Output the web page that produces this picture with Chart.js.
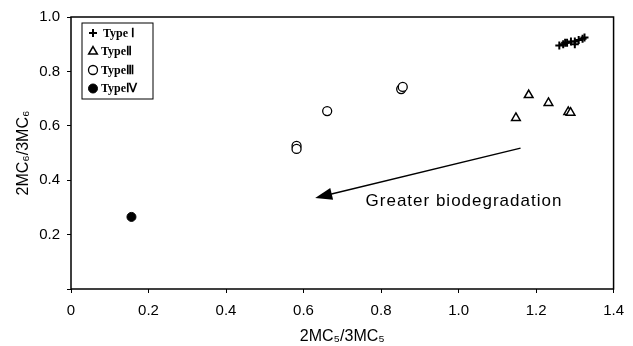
<!DOCTYPE html>
<html>
<head>
<meta charset="utf-8">
<script src="https://cdn.jsdelivr.net/npm/chart.js@4.4.1/dist/chart.umd.min.js"></script>
<style>
  html, body { margin: 0; padding: 0; background: #fff; }
  #wrap { width: 633px; height: 346px; }
</style>
</head>
<body>
<div id="wrap"><canvas id="chart"></canvas></div>
<script>
// values
const typeIX = [1.26, 1.27, 1.275, 1.28, 1.29, 1.30, 1.31, 1.32, 1.325, 1.30];
const typeIY = [0.895, 0.90, 0.905, 0.905, 0.91, 0.91, 0.915, 0.92, 0.925, 0.90];
const typeIIX = [1.148, 1.181, 1.232, 1.283, 1.289];
const typeIIY = [0.629, 0.713, 0.684, 0.651, 0.648];
const typeIIIX = [0.582, 0.582, 0.661, 0.852, 0.856];
const typeIIIY = [0.526, 0.515, 0.654, 0.735, 0.743];
const typeIVX = [0.156];
const typeIVY = [0.265];

const seriesLabels = ['Type Ⅰ', 'TypeⅡ', 'TypeⅢ', 'TypeⅣ'];
const xTicks = [0, 0.2, 0.4, 0.6, 0.8, 1.0, 1.2, 1.4];
const yTicks = [0, 0.2, 0.4, 0.6, 0.8, 1.0];

const arrowFrom = [1.16, 0.518];
const arrowTo = [0.63, 0.335];
const noteText = 'Greater biodegradation';
const notePos = [0.76, 0.322];

function pts(xs, ys) {
  return xs.map((x, i) => ({ x, y: ys[i] }));
}

const frame = {
  id: 'frame',
  afterDraw(chart) {
    const { ctx, chartArea: a } = chart;
    ctx.save();
    ctx.strokeStyle = '#000';
    ctx.lineWidth = 1.5;
    ctx.strokeRect(a.left, a.top, a.right - a.left, a.bottom - a.top);
    ctx.restore();
  }
};

const arrow = {
  id: 'arrow',
  afterDatasetsDraw(chart) {
    const { ctx, scales: { x, y } } = chart;
    const x1 = x.getPixelForValue(arrowFrom[0]), y1 = y.getPixelForValue(arrowFrom[1]);
    const x2 = x.getPixelForValue(arrowTo[0]), y2 = y.getPixelForValue(arrowTo[1]);
    const ang = Math.atan2(y2 - y1, x2 - x1);
    const head = 17, half = 6;
    ctx.save();
    ctx.strokeStyle = '#000';
    ctx.fillStyle = '#000';
    ctx.lineWidth = 1.5;
    ctx.beginPath();
    ctx.moveTo(x1, y1);
    ctx.lineTo(x2 - Math.cos(ang) * head * 0.8, y2 - Math.sin(ang) * head * 0.8);
    ctx.stroke();
    ctx.beginPath();
    ctx.moveTo(x2, y2);
    ctx.lineTo(x2 - Math.cos(ang) * head - Math.sin(ang) * half, y2 - Math.sin(ang) * head + Math.cos(ang) * half);
    ctx.lineTo(x2 - Math.cos(ang) * head + Math.sin(ang) * half, y2 - Math.sin(ang) * head - Math.cos(ang) * half);
    ctx.closePath();
    ctx.fill();
    ctx.font = '17px "Liberation Sans", Arial, sans-serif';
    ctx.letterSpacing = '1px';
    ctx.textBaseline = 'middle';
    ctx.textAlign = 'left';
    ctx.fillText(noteText, x.getPixelForValue(notePos[0]), y.getPixelForValue(notePos[1]));
    ctx.restore();
  }
};

const boxLegend = {
  id: 'boxLegend',
  afterDraw(chart) {
    const { ctx, chartArea: a } = chart;
    const bx = a.left + 11, by = a.top + 6, bw = 71, bh = 76;
    ctx.save();
    ctx.strokeStyle = '#000';
    ctx.lineWidth = 1;
    ctx.strokeRect(bx, by, bw, bh);
    chart.data.datasets.forEach((ds, i) => {
      const cy = by + 10 + i * 18.5;
      const cx = bx + 11;
      ctx.fillStyle = ds.backgroundColor;
      ctx.strokeStyle = '#000';
      ctx.lineWidth = ds.borderWidth;
      Chart.helpers.drawPoint(ctx, {
        pointStyle: ds.pointStyle,
        radius: ds.pointRadius,
        borderWidth: ds.borderWidth,
        rotation: 0
      }, cx, cy);
      ctx.fillStyle = '#000';
      ctx.font = 'bold 12px "Liberation Serif", "Times New Roman", serif';
      ctx.textBaseline = 'middle';
      ctx.textAlign = 'left';
      ctx.fillText(ds.label, bx + 21 - (i > 0 ? 2 : 0), cy + 0.5);
    });
    ctx.restore();
  }
};

new Chart(document.getElementById('chart'), {
  type: 'scatter',
  data: {
    datasets: [
      {
        label: seriesLabels[0],
        data: pts(typeIX, typeIY),
        pointStyle: 'cross',
        pointRadius: 4,
        borderColor: '#000',
        backgroundColor: '#000',
        borderWidth: 2
      },
      {
        label: seriesLabels[1],
        data: pts(typeIIX, typeIIY),
        pointStyle: 'triangle',
        pointRadius: 5,
        borderColor: '#000',
        backgroundColor: '#fff',
        borderWidth: 1.5
      },
      {
        label: seriesLabels[2],
        data: pts(typeIIIX, typeIIIY),
        pointStyle: 'circle',
        pointRadius: 4.5,
        borderColor: '#000',
        backgroundColor: '#fff',
        borderWidth: 1.3
      },
      {
        label: seriesLabels[3],
        data: pts(typeIVX, typeIVY),
        pointStyle: 'circle',
        pointRadius: 4.5,
        borderColor: '#000',
        backgroundColor: '#000',
        borderWidth: 1
      }
    ]
  },
  options: {
    responsive: true,
    maintainAspectRatio: false,
    animation: false,
    layout: { padding: { top: 17, right: 13, left: 0, bottom: 0 } },
    plugins: {
      legend: { display: false },
      tooltip: { enabled: false }
    },
    scales: {
      x: {
        type: 'linear',
        min: 0,
        max: 1.4,
        afterBuildTicks(s) { s.ticks = xTicks.map(v => ({ value: v })); },
        afterFit(s) { s.height = 57; },
        grid: { display: true, drawOnChartArea: false, tickLength: 4, color: '#000', lineWidth: 1 },
        border: { display: false },
        ticks: {
          color: '#000',
          padding: 9,
          font: { family: '"Liberation Sans", Arial, sans-serif', size: 15 },
          callback: v => (v === 0 ? '0' : v.toFixed(1))
        },
        title: {
          display: true,
          text: '2MC₅/3MC₅',
          color: '#000',
          padding: { top: 0, bottom: 0 },
          font: { family: '"Liberation Sans", Arial, sans-serif', size: 16 }
        }
      },
      y: {
        type: 'linear',
        min: 0,
        max: 1.0,
        afterBuildTicks(s) { s.ticks = yTicks.map(v => ({ value: v })); },
        afterFit(s) { s.width = 71; },
        grid: { display: true, drawOnChartArea: false, tickLength: 4, color: '#000', lineWidth: 1 },
        border: { display: false },
        ticks: {
          color: '#000',
          padding: 7,
          font: { family: '"Liberation Sans", Arial, sans-serif', size: 15 },
          callback: v => (v === 0 ? '' : v.toFixed(1))
        },
        title: {
          display: true,
          text: '2MC₆/3MC₆',
          color: '#000',
          padding: { top: 14, bottom: 0 },
          font: { family: '"Liberation Sans", Arial, sans-serif', size: 16 }
        }
      }
    }
  },
  plugins: [frame, arrow, boxLegend]
});
</script>
</body>
</html>
